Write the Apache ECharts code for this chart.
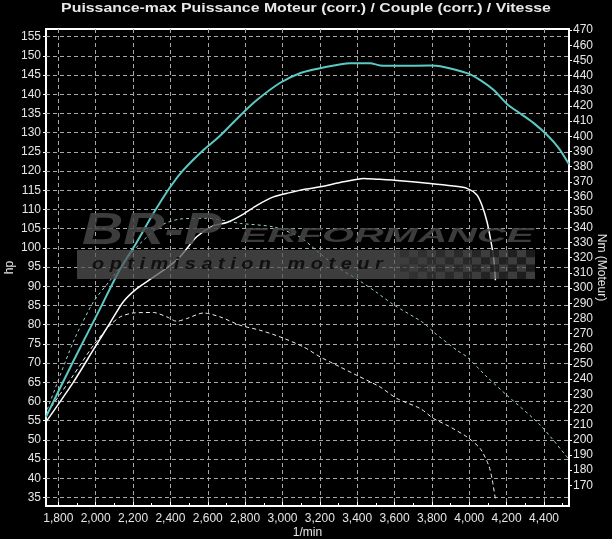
<!DOCTYPE html>
<html><head><meta charset="utf-8">
<script src="https://cdn.jsdelivr.net/npm/echarts@6/dist/echarts.min.js"></script>
<style>html,body{margin:0;padding:0;background:#000}#c{width:612px;height:539px}</style>
</head><body><div id="c"></div>
<script>
var titleText = 'Puissance-max Puissance Moteur (corr.) / Couple (corr.) / Vitesse';
var rpmTicks = [1800,2000,2200,2400,2600,2800,3000,3200,3400,3600,3800,4000,4200,4400];
var rpmMinorTicks = [1900,2100,2300,2500,2700,2900,3100,3300,3500,3700,3900,4100,4300,4500];
var hpTicks = [35,40,45,50,55,60,65,70,75,80,85,90,95,100,105,110,115,120,125,130,135,140,145,150,155];
var nmTicks = [170,180,190,200,210,220,230,240,250,260,270,280,290,300,310,320,330,340,350,360,370,380,390,400,410,420,430,440,450,460,470];

// Puissance-max (hp) : [rpm, hp]
var puissanceMax = [[1734,56],[1880,70.5],[2006,82.5],[2131,94.5],[2220,101.5],[2309,109],[2398,115.8],[2470,120.3],[2577,125.5],[2657,128.8],[2774,134.5],[2863,138.5],[2988,143],[3100,145.6],[3202,146.8],[3362,148.1],[3469,148.1],[3523,147.5],[3630,147.4],[3791,147.5],[3845,147.3],[3988,145.5],[4059,143.7],[4131,141.1],[4202,137.5],[4273,135],[4345,132.5],[4417,129.4],[4479,126],[4534,121.8]];
// Puissance Moteur (hp)
var puissanceMoteur = [[1734,54.7],[1880,65],[1988,73.5],[2077,80.5],[2148,86],[2220,89.4],[2291,91.8],[2381,94.8],[2452,97.7],[2541,102.9],[2630,105.8],[2702,106.6],[2791,108.8],[2863,111.1],[2952,113.3],[3041,114.4],[3113,115.2],[3202,115.9],[3327,117.2],[3434,118.1],[3506,117.9],[3630,117.5],[3791,116.8],[3916,116.1],[3988,115.5],[4041,113.8],[4068,111.1],[4095,106.8],[4113,102.5],[4131,97.3],[4140,91.6]];
// Couple max (Nm)
var coupleMax = [[1741,220],[1880,264.5],[1988,290.9],[2077,305],[2184,322],[2238,329.4],[2345,341],[2452,345.5],[2595,346],[2774,342.6],[2952,340.3],[3095,333.5],[3184,324.5],[3291,314],[3398,306],[3500,297.5],[3595,289],[3756,277],[3809,271],[3934,259],[3988,254.6],[4095,241.4],[4202,229.3],[4381,209.6],[4534,187]];
// Couple (Nm)
var couple = [[1741,218],[1880,242.5],[1988,262.3],[2077,275.5],[2131,281],[2202,283.6],[2309,283.9],[2381,281],[2434,278.1],[2488,279.9],[2577,283.6],[2666,281],[2773,275.5],[2880,272.2],[2988,267.8],[3113,261.2],[3202,254.6],[3273,250.2],[3398,242.5],[3523,234.8],[3613,227.2],[3738,220.6],[3809,214],[3881,209.6],[3988,201.9],[4059,194.2],[4104,183.2],[4122,174.4],[4141,160]];

var chart = echarts.init(document.getElementById('c'), null, {renderer:'canvas'});
var fnt = 'Liberation Sans, Arial, sans-serif';
var lbl = '#e6e6e6';
var gridDash = {color:'#a8a8a8', type:[4,3], width:1};

var deco = [
  {type:'text', z:50, x:306, y:2, scaleX:1.22, style:{text:titleText, fill:'#e8e8e8', font:'bold 13px '+fnt, textAlign:'center'}},
  {type:'text', z:30, x:82, y:210, scaleX:1.3, style:{text:'BR-P', fill:'rgba(70,70,70,0.85)', font:'italic bold 44px '+fnt}},
  {type:'text', z:30, x:240, y:226, scaleX:2.05, style:{text:'ERFORMANCE', fill:'rgba(70,70,70,0.85)', font:'italic bold 20px '+fnt}},
  {type:'rect', z:29, shape:{x:77, y:250, width:458, height:29}, style:{fill:'rgba(85,85,85,0.72)'}},
  {type:'text', z:31, x:92, y:256, scaleX:1.17, style:{text:'o p t i m i s a t i o n   m o t e u r', fill:'#101010', font:'italic bold 17px '+fnt}}
];
// checkered flag decoration
for (var col=0; col<15; col++) {
  for (var row=0; row<4; row++) {
    if ((col+row)%2===0) {
      deco.push({type:'rect', z:30, shape:{x:400+col*9, y:250+row*7.25, width:9, height:7.25}, style:{fill:'rgba(20,20,20,'+(0.25+col*0.04)+')'}});
    }
  }
}

chart.setOption({
  backgroundColor:'#000',
  animation:false,
  graphic: deco,
  grid:{left:46, right:43, top:29, bottom:33, outerBoundsMode:'none', containLabel:false, show:true, borderColor:'#fff', borderWidth:2, backgroundColor:'transparent'},
  xAxis:[{
    type:'value', min:1734, max:4534,
    name:'1/min', nameLocation:'middle', nameGap:21, nameMoveOverlap:false,
    nameTextStyle:{color:lbl, fontFamily:fnt, fontSize:12},
    axisLine:{show:false},
    axisTick:{show:true, inside:true, length:4, lineStyle:{color:'#fff'}, customValues:rpmTicks},
    axisLabel:{color:lbl, fontFamily:fnt, fontSize:12, margin:7, customValues:rpmTicks,
      formatter:function(v){return v.toLocaleString('en-US');}},
    splitLine:{show:true, lineStyle:gridDash}
  },{
    type:'value', min:1734, max:4534, position:'bottom',
    axisLine:{show:false}, axisLabel:{show:false}, splitLine:{show:false},
    axisTick:{show:true, inside:true, length:3, lineStyle:{color:'#fff'}, customValues:rpmMinorTicks}
  }],
  yAxis:[{
    type:'value', min:32.8, max:157, position:'left',
    name:'hp', nameLocation:'middle', nameGap:30, nameRotate:90, nameMoveOverlap:false,
    nameTextStyle:{color:lbl, fontFamily:fnt, fontSize:12},
    axisLine:{show:false},
    axisTick:{show:true, length:3, lineStyle:{color:'#fff'}, customValues:hpTicks},
    axisLabel:{color:lbl, fontFamily:fnt, fontSize:12, margin:5, customValues:hpTicks},
    splitLine:{show:true, lineStyle:gridDash}
  },{
    type:'value', min:156.4, max:470.7, position:'right',
    name:'Nm (Moteur)', nameLocation:'middle', nameGap:26, nameRotate:-90, nameMoveOverlap:false,
    nameTextStyle:{color:lbl, fontFamily:fnt, fontSize:12},
    axisLine:{show:false},
    axisTick:{show:true, length:3, lineStyle:{color:'#fff'}, customValues:nmTicks},
    axisLabel:{color:lbl, fontFamily:fnt, fontSize:12, margin:4, customValues:nmTicks},
    splitLine:{show:false}
  }],
  series:[
    {name:'Couple max', type:'line', yAxisIndex:1, data:coupleMax, showSymbol:false, smooth:0.25,
      lineStyle:{color:'#9cd2d0', width:1, type:[3,3]}, z:3},
    {name:'Couple', type:'line', yAxisIndex:1, data:couple, showSymbol:false, smooth:0.25,
      lineStyle:{color:'#f0f0f0', width:1, type:[4,3]}, z:3},
    {name:'Puissance Moteur', type:'line', yAxisIndex:0, data:puissanceMoteur, showSymbol:false, smooth:0.25,
      lineStyle:{color:'#ffffff', width:1.5}, z:4},
    {name:'Puissance-max', type:'line', yAxisIndex:0, data:puissanceMax, showSymbol:false, smooth:0.25,
      lineStyle:{color:'#5ccac4', width:2}, z:5}
  ]
});
</script></body></html>
